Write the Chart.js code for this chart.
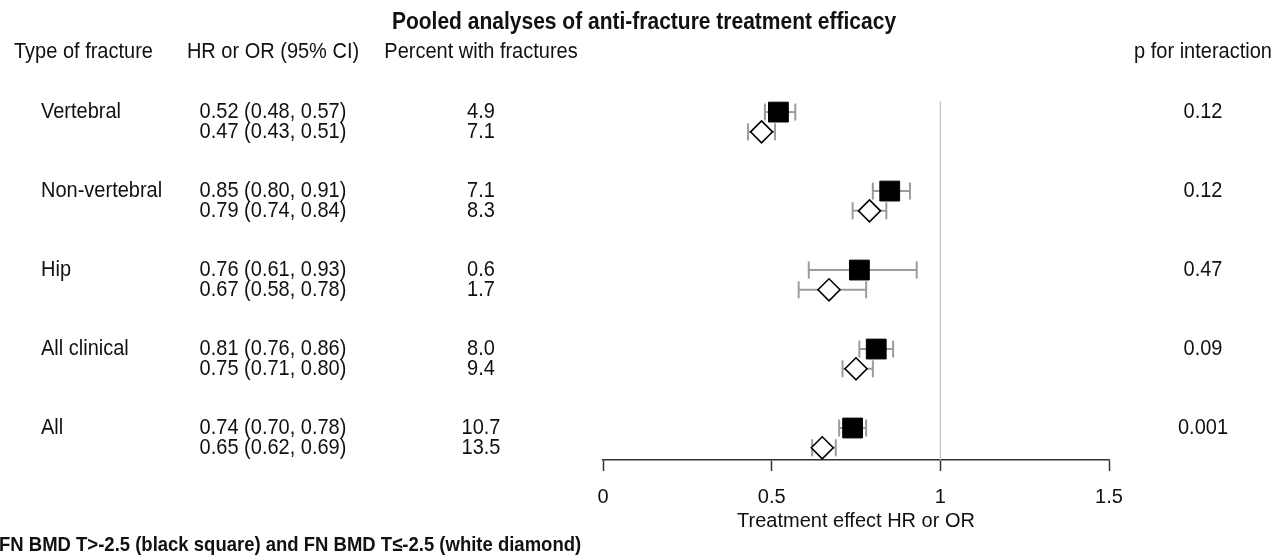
<!DOCTYPE html>
<html>
<head>
<meta charset="utf-8">
<script src="https://cdn.jsdelivr.net/npm/chart.js@4.4.0/dist/chart.umd.min.js"></script>
<style>
  html, body { margin: 0; padding: 0; background: #fff; }
  #wrap { width: 1284px; height: 556px; position: relative; }
</style>
</head>
<body>
<div id="wrap"><canvas id="forest"></canvas></div>
<script>
// rows of the forest plot
const fractureTypes = ["Vertebral", "Non-vertebral", "Hip", "All clinical", "All"];

// FN BMD T>-2.5 (black square)
const hrHigh = [0.52, 0.85, 0.76, 0.81, 0.74];
const lowerHigh = [0.48, 0.80, 0.61, 0.76, 0.70];
const upperHigh = [0.57, 0.91, 0.93, 0.86, 0.78];
const pctHigh = ["4.9", "7.1", "0.6", "8.0", "10.7"];

// FN BMD T≤-2.5 (white diamond)
const hrLow = [0.47, 0.79, 0.67, 0.75, 0.65];
const lowerLow = [0.43, 0.74, 0.58, 0.71, 0.62];
const upperLow = [0.51, 0.84, 0.78, 0.80, 0.69];
const pctLow = ["7.1", "8.3", "1.7", "9.4", "13.5"];

const pInteraction = ["0.12", "0.12", "0.47", "0.09", "0.001"];

const xTicks = [0, 0.5, 1, 1.5];
const refValue = 1;

// second line of each row sits a quarter row below the first
const SUB_OFFSET = 0.25;
const Y_MIN = -0.305;
const Y_MAX = 4.405;

const FONT = '"Liberation Sans", Arial, Helvetica, sans-serif';
const TEXT_COLOR = "#111";
const STRETCH = 1.1; // the original lettering is a bit taller than Arial

function fmt(v) {
    return v.toFixed(2);
}

// 🔹 Tableau de gauche / droite dessiné par-dessus le graphique
const tablePlugin = {
    id: "forestTable",
    afterDraw(chart) {
        const ctx = chart.ctx;
        const yScale = chart.scales.y;

        function text(str, x, y, align) {
            ctx.save();
            ctx.translate(x, y);
            ctx.scale(1, STRETCH);
            ctx.textAlign = align;
            ctx.fillText(str, 0, 0);
            ctx.restore();
        }

        ctx.save();
        ctx.fillStyle = TEXT_COLOR;
        ctx.textBaseline = "middle";

        ctx.font = "bold 21px " + FONT;
        text("Pooled analyses of anti-fracture treatment efficacy", 644, 23, "center");

        ctx.font = "20px " + FONT;
        text("Type of fracture", 14, 52, "left");
        text("HR or OR (95% CI)", 273, 52, "center");
        text("Percent with fractures", 481, 52, "center");
        text("p for interaction", 1203, 52, "center");

        fractureTypes.forEach((name, i) => {
            const y1 = yScale.getPixelForValue(i);
            const y2 = yScale.getPixelForValue(i + SUB_OFFSET);
            text(name, 41, y1, "left");
            text(`${fmt(hrHigh[i])} (${fmt(lowerHigh[i])}, ${fmt(upperHigh[i])})`, 273, y1, "center");
            text(`${fmt(hrLow[i])} (${fmt(lowerLow[i])}, ${fmt(upperLow[i])})`, 273, y2, "center");
            text(pctHigh[i], 481, y1, "center");
            text(pctLow[i], 481, y2, "center");
            text(pInteraction[i], 1203, y1, "center");
        });

        ctx.font = "bold 18.5px " + FONT;
        text("FN BMD T>-2.5 (black square) and FN BMD T\u2264-2.5 (white diamond)", -1, 545, "left");
        ctx.restore();
    }
};

const datasets = [];

// reference line at HR = 1
datasets.push({
    type: "line",
    data: [{ x: refValue, y: -0.14 }, { x: refValue, y: Y_MAX }],
    borderColor: "#c4c4c4",
    borderWidth: 1.2,
    pointRadius: 0,
    clip: false,
    order: 6
});

// confidence intervals with end caps
function addCi(lows, highs, offset) {
    lows.forEach((lo, i) => {
        datasets.push({
            type: "line",
            data: [{ x: lo, y: i + offset }, { x: highs[i], y: i + offset }],
            borderColor: "#9c9c9c",
            borderWidth: 2,
            pointStyle: "line",
            rotation: 90,
            pointRadius: 8.5,
            pointBorderColor: "#9c9c9c",
            pointBorderWidth: 2,
            clip: false,
            order: 4
        });
    });
}
addCi(lowerHigh, upperHigh, 0);
addCi(lowerLow, upperLow, SUB_OFFSET);

datasets.push({
    type: "scatter",
    label: "FN BMD T>-2.5",
    data: hrHigh.map((v, i) => ({ x: v, y: i })),
    pointStyle: "rect",
    pointRadius: 14,
    backgroundColor: "#000",
    borderColor: "#000",
    borderWidth: 1,
    clip: false,
    order: 1
});

datasets.push({
    type: "scatter",
    label: "FN BMD T≤-2.5",
    data: hrLow.map((v, i) => ({ x: v, y: i + SUB_OFFSET })),
    pointStyle: "rectRot",
    pointRadius: 11,
    backgroundColor: "#fff",
    borderColor: "#000",
    borderWidth: 1.6,
    clip: false,
    order: 0
});

new Chart(document.getElementById("forest"), {
    type: "scatter",
    data: { datasets: datasets },
    options: {
        responsive: true,
        maintainAspectRatio: false,
        animation: false,
        events: [],
        layout: { padding: { left: 603, right: 175, top: 88, bottom: 0 } },
        plugins: {
            legend: { display: false },
            tooltip: { enabled: false },
            title: { display: false }
        },
        scales: {
            x: {
                type: "linear",
                min: 0,
                max: 1.5,
                afterFit: (scale) => { scale.height = 96; },
                afterBuildTicks: (scale) => { scale.ticks = xTicks.map(v => ({ value: v })); },
                border: { display: true, color: "#333", width: 1.5 },
                grid: {
                    drawOnChartArea: false,
                    drawTicks: true,
                    tickLength: 11,
                    tickColor: "#333",
                    tickWidth: 1.5
                },
                ticks: {
                    padding: 14,
                    color: TEXT_COLOR,
                    font: { family: FONT, size: 20 },
                    callback: (v) => String(v)
                },
                title: {
                    display: true,
                    text: "Treatment effect HR or OR",
                    color: TEXT_COLOR,
                    font: { family: FONT, size: 20 },
                    padding: { top: 0, bottom: 23 }
                }
            },
            y: {
                type: "linear",
                display: false,
                reverse: true,
                min: Y_MIN,
                max: Y_MAX
            }
        }
    },
    plugins: [tablePlugin]
});
</script>
</body>
</html>
